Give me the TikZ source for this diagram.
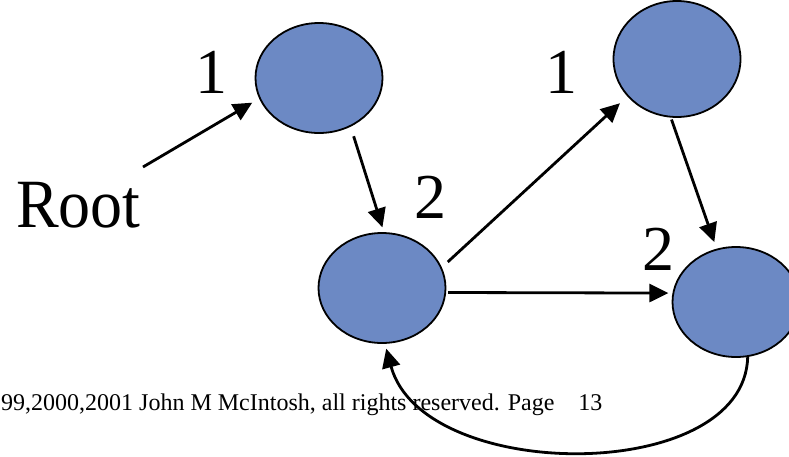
\documentclass[tikz,border=0pt]{standalone}
\usepackage{fontspec}
\setmainfont{Liberation Serif}
\usetikzlibrary{shapes.geometric, arrows.meta}
\definecolor{nodeblue}{RGB}{108,137,196}
\tikzstyle{every node}=[font=\fontsize{64}{64}\selectfont]
\tikzstyle{vertex} = [ellipse, draw, line width=1.8pt, fill=nodeblue, minimum width=127pt, minimum height=110pt, inner sep=0pt]
\tikzstyle{count} = [inner sep=0pt, anchor=base]
\tikzstyle{link} = [draw, line width=2.8pt, -{Triangle[length=19pt,width=18pt]}]

\begin{document}
\begin{tikzpicture}[x=1pt, y=-1pt]
    \useasboundingbox (0,0) rectangle (789,456);
    % Footer line
    \node [anchor=base west, inner sep=0pt, font=\fontsize{24}{24}\selectfont] (footer) at (1,410)
        {99,2000,2001 John M McIntosh, all rights reserved. Page\ \ \ \ 13};
    % Place nodes
    \node [vertex] (top) at (319,78) {};
    \node [vertex] (mid) at (382,288) {};
    \node [vertex, minimum height=116pt] (topright) at (677,59) {};
    \node [vertex] (right) at (736,302) {};
    % Labels
    \node [anchor=base west, inner sep=0pt] (root) at (16,227) {\scalebox{1}[1.08]{Root}};
    \coordinate (rootfoot) at (143,167);
    \node [count] (topcount) at (211.5,93) {1};
    \node [count] (midcount) at (430,218) {2};
    \node [count] (toprightcount) at (561.5,93) {1};
    \node [count] (rightcount) at (658.5,270) {2};
    % Draw edges
    \path [link, shorten >=8pt] (rootfoot) -- (top.199);
    \path [link, shorten <=10pt, shorten >=5pt] (top.-57) -- (mid.88);
    \path [link, shorten <=8pt, shorten >=10pt] (mid.19) -- (topright.217);
    \path [link, shorten <=2pt, shorten >=7pt] (topright.264) -- (right.110);
    \path [link, shorten <=2pt, shorten >=4pt] (mid.-4.5) -- (right.172);
    \path [link, shorten >=5pt] (right.-78) .. controls +(-3,128) and +(38,140) .. (mid.-87);
\end{tikzpicture}
\end{document}
